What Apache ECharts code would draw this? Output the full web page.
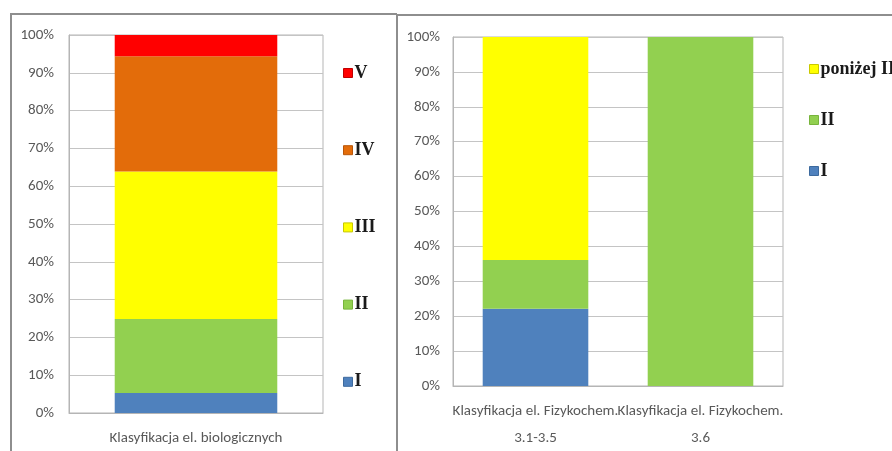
<!DOCTYPE html>
<html>
<head>
<meta charset="utf-8">
<script src="https://cdn.jsdelivr.net/npm/echarts@6/dist/echarts.min.js"></script>
<style>
  html, body { margin: 0; padding: 0; background: #ffffff; }
  #chart { width: 892px; height: 451px; }
</style>
</head>
<body>
<div id="chart"></div>
<script>
// Left chart: biological elements classification (percent shares)
const bioCategories = ['Klasyfikacja el. biologicznych'];
const bioI = [5.3];
const bioII = [19.6];
const bioIII = [39.0];
const bioIV = [30.5];
const bioV = [5.6];

// Right chart: physico-chemical elements classification
const chemCategories = ['Klasyfikacja el. Fizykochem.\n3.1-3.5', 'Klasyfikacja el. Fizykochem.\n3.6'];
const chemI = [22.1, 0];
const chemII = [14.0, 100];
const chemBelowII = [63.9, 0];

const yTicks = [0, 10, 20, 30, 40, 50, 60, 70, 80, 90, 100];

const colors = {
  I: '#4F81BD',
  II: '#92D050',
  III: '#FFFF00',
  IV: '#E36C0A',
  V: '#FF0000'
};

const labelFont = "Carlito, 'Liberation Sans Narrow', 'Open Sans', sans-serif";
const legendFont = "'Liberation Serif', 'DejaVu Serif', serif";
const frameColor = '#8e8e8e';
const gridColor = '#c4c4c4';

function yAxis(gridIndex, margin) {
  return {
    type: 'value', gridIndex: gridIndex, min: yTicks[0], max: yTicks[yTicks.length - 1], interval: 10,
    axisLine: { show: true, lineStyle: { color: '#b5b5b5', width: 1 } },
    axisTick: { show: false },
    splitLine: { show: true, lineStyle: { color: gridColor, width: 1 } },
    axisLabel: { formatter: v => v + '%', color: '#595959', fontFamily: labelFont, fontSize: 15, margin: margin }
  };
}

function xAxis(gridIndex, data) {
  return {
    type: 'category', gridIndex: gridIndex, data: data,
    axisLine: { show: true, lineStyle: { color: '#b5b5b5', width: 1 } },
    axisTick: { show: false },
    axisLabel: { color: '#595959', fontFamily: labelFont, fontSize: 15, lineHeight: 27, margin: 12, interval: 0 }
  };
}

function bar(name, data, xi, color, stack) {
  return {
    name: name, type: 'bar', stack: stack, data: data,
    xAxisIndex: xi, yAxisIndex: xi, barWidth: '64%',
    itemStyle: { color: color },
    emphasis: { disabled: true },
    animation: false
  };
}

function legendItems(names, darker) {
  return names.map(n => ({ name: n, itemStyle: { borderColor: darker[n], borderWidth: 1 } }));
}

const darkBorders = { I: '#3d6a9e', II: '#78b43c', III: '#c8c800', IV: '#b85508', V: '#c00000', 'poniżej II': '#c8c800' };

const legendText = { fontFamily: legendFont, fontWeight: 'bold', fontSize: 18, color: '#1a1a1a', padding: [0, 0, 0, -3] };

const gridBase = { show: true, borderColor: '#b5b5b5', borderWidth: 1, backgroundColor: 'transparent', containLabel: false, outerBoundsMode: 'none' };

const chart = echarts.init(document.getElementById('chart'), null, { renderer: 'canvas' });
chart.setOption({
  backgroundColor: '#ffffff',
  animation: false,
  grid: [
    Object.assign({ left: 69, top: 35, width: 254, height: 378 }, gridBase),
    Object.assign({ left: 453, top: 37, width: 330, height: 349 }, gridBase)
  ],
  xAxis: [xAxis(0, bioCategories), xAxis(1, chemCategories)],
  yAxis: [yAxis(0, 15), yAxis(1, 13)],
  legend: [
    {
      orient: 'vertical', left: 343, top: 64, padding: 0, itemWidth: 9, itemHeight: 9, itemGap: 59.2,
      icon: 'rect', selectedMode: false, textStyle: legendText,
      data: legendItems(['V', 'IV', 'III', 'II', 'I'], darkBorders)
    },
    {
      orient: 'vertical', left: 809, top: 60, padding: 0, itemWidth: 9, itemHeight: 9, itemGap: 33,
      icon: 'rect', selectedMode: false, textStyle: legendText,
      data: legendItems(['poniżej II', 'II', 'I'], darkBorders)
    }
  ],
  series: [
    bar('I', bioI, 0, colors.I, 'bio'),
    bar('II', bioII, 0, colors.II, 'bio'),
    bar('III', bioIII, 0, colors.III, 'bio'),
    bar('IV', bioIV, 0, colors.IV, 'bio'),
    bar('V', bioV, 0, colors.V, 'bio'),
    bar('I', chemI, 1, colors.I, 'chem'),
    bar('II', chemII, 1, colors.II, 'chem'),
    bar('poniżej II', chemBelowII, 1, colors.III, 'chem')
  ],
  graphic: [
    // panel frames
    { type: 'polyline', silent: true, shape: { points: [[11, 451], [11, 14], [397, 14]] }, style: { stroke: frameColor, lineWidth: 2, fill: null } },
    { type: 'line', silent: true, shape: { x1: 397, y1: 14, x2: 397, y2: 451 }, style: { stroke: frameColor, lineWidth: 2 } },
    { type: 'line', silent: true, shape: { x1: 397, y1: 15, x2: 892, y2: 15 }, style: { stroke: frameColor, lineWidth: 2 } }
  ]
});
</script>
</body>
</html>
